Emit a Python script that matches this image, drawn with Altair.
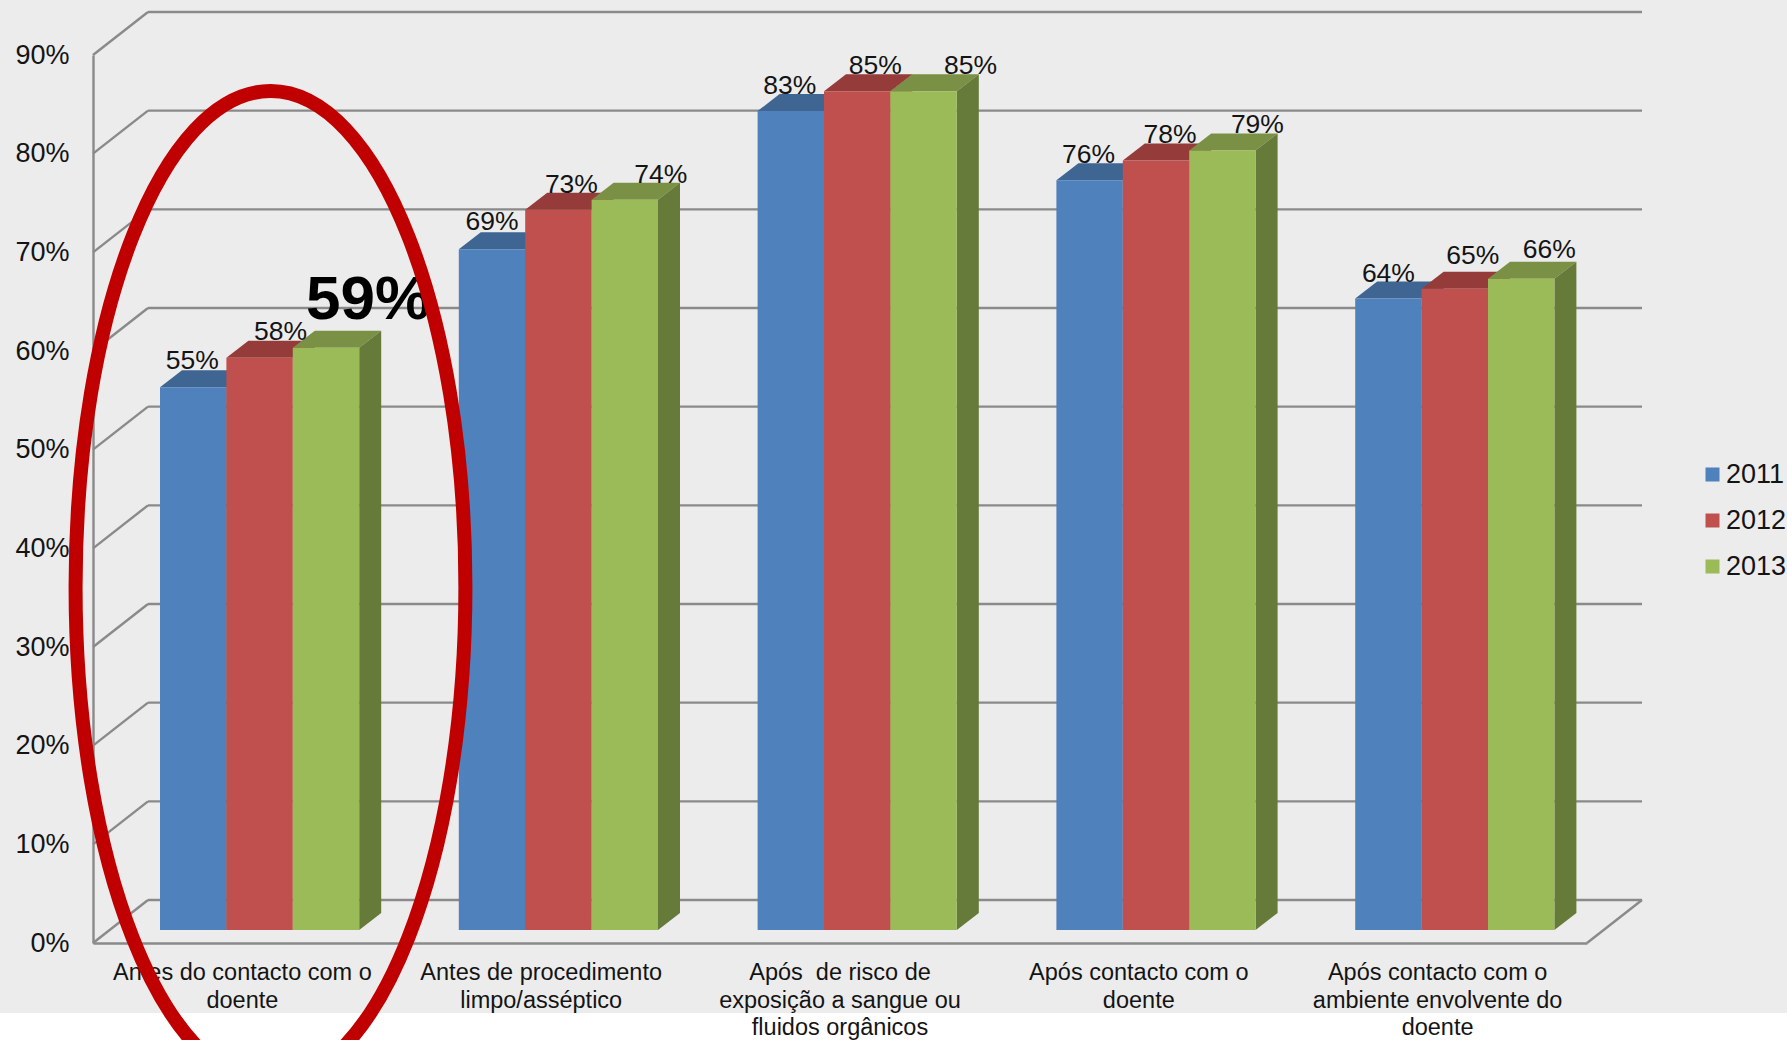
import altair as alt
import pandas as pd

# Hand hygiene compliance by moment of care, per year
CATEGORIES = [
    "Antes do contacto com o\ndoente",
    "Antes de procedimento\nlimpo/asséptico",
    "Após \u00a0de risco de\nexposição a sangue ou\nfluidos orgânicos",
    "Após contacto com o\ndoente",
    "Após contacto com o\nambiente envolvente do\ndoente",
]
YEARS = ["2011", "2012", "2013"]
VALUES_2011 = [55, 69, 83, 76, 64]
VALUES_2012 = [58, 73, 85, 78, 65]
VALUES_2013 = [59, 74, 85, 79, 66]
TICKS = list(range(0, 100, 10))

FRONT = ["#4F81BD", "#C0504D", "#9BBB59"]
TOP = ["#3F6592", "#953B39", "#7A9145"]
SIDE = ["#3A5F8A", "#8C3836", "#667A3A"]
GRID = "#8A8A8A"
INK = "#141414"
FONT = "Liberation Sans"

# Plot-area size in pixels and the pixels carried by one data unit
PLOT_W, PLOT_H = 1494, 888
PX_X = PLOT_W / 5
PX_Y = PLOT_H / 90
PAD_L, PAD_T = 93, 55


def ux(px):
    return px / PX_X


def uy(px):
    return px / PX_Y


# Pseudo-3D geometry, in data units
WALL_DX, WALL_DY = ux(55), uy(43)
BAR_LEFT, BAR_W = ux(67), ux(66.4)
BAR_BASE = uy(13)
BAR_DX, BAR_DY = ux(22), uy(17)

# Small hand placement of the value labels, in pixels (shift right, rise above bar)
LABEL_SHIFT = [[-1, 21, 42], [0, 13, 36], [-1, 18, 47], [-1, 14, 35], [0, 18, 28]]
LABEL_RISE = [[26, 26, 48], [27, 25, 25], [25, 25, 25], [25, 25, 26], [25, 33, 29]]

series = [VALUES_2011, VALUES_2012, VALUES_2013]

fronts, faces, labels = [], [], []
for i in range(len(CATEGORIES)):
    for j, year in enumerate(YEARS):
        v = series[j][i]
        x0 = i + BAR_LEFT + j * BAR_W
        x1 = x0 + BAR_W
        yt = v + BAR_BASE
        fronts.append({"year": year, "x": x0, "x2": x1, "y": BAR_BASE, "y2": yt})
        top_id, side_id = f"top{i}{j}", f"side{i}{j}"
        faces += [
            {"face": top_id, "shade": TOP[j], "x": x0, "y": yt, "y2": yt},
            {"face": top_id, "shade": TOP[j], "x": x0 + BAR_DX, "y": yt, "y2": yt + BAR_DY},
            {"face": top_id, "shade": TOP[j], "x": x1, "y": yt, "y2": yt + BAR_DY},
            {"face": top_id, "shade": TOP[j], "x": x1 + BAR_DX, "y": yt + BAR_DY, "y2": yt + BAR_DY},
            {"face": side_id, "shade": SIDE[j], "x": x1, "y": BAR_BASE, "y2": yt},
            {"face": side_id, "shade": SIDE[j], "x": x1 + BAR_DX, "y": BAR_BASE + BAR_DY, "y2": yt + BAR_DY},
        ]
        labels.append(
            {
                "x": (x0 + x1) / 2 + ux(LABEL_SHIFT[i][j]),
                "y": yt + uy(LABEL_RISE[i][j]),
                "text": f"{v}%",
                "big": i == 0 and j == 2,
            }
        )

# Side wall, back wall and floor lines
grid = []
for t in TICKS:
    grid += [
        {"seg": f"wall{t}", "x": 0, "y": t},
        {"seg": f"wall{t}", "x": WALL_DX, "y": t + WALL_DY},
        {"seg": f"back{t}", "x": WALL_DX, "y": t + WALL_DY},
        {"seg": f"back{t}", "x": 5 + WALL_DX, "y": t + WALL_DY},
    ]
grid += [{"seg": "floor", "x": 5, "y": 0}, {"seg": "floor", "x": 5 + WALL_DX, "y": WALL_DY}]

cat_labels = [
    {"x": i + 0.5, "y": -uy(30), "text": c} for i, c in enumerate(CATEGORIES)
]

x_scale = alt.Scale(domain=[0, 5], nice=False, zero=False)
y_scale = alt.Scale(domain=[0, 90], nice=False, zero=False)
X = alt.X("x:Q", scale=x_scale, title=None)
Y = alt.Y("y:Q", scale=y_scale, title=None)

# White strip under the textured slide area
strip = (
    alt.Chart(pd.DataFrame([{"x": -ux(PAD_L), "x2": 5 + ux(200), "y": -uy(70), "y2": -uy(100)}]))
    .mark_rect(color="white")
    .encode(x=X, x2="x2:Q", y=Y, y2="y2:Q")
)

grid_lines = (
    alt.Chart(pd.DataFrame(grid))
    .mark_line(color=GRID, strokeWidth=2.4)
    .encode(
        x=alt.X(
            "x:Q",
            scale=x_scale,
            title=None,
            axis=alt.Axis(
                labels=False, ticks=False, grid=False, domainColor=GRID, domainWidth=2.4, zindex=0
            ),
        ),
        y=alt.Y(
            "y:Q",
            scale=y_scale,
            title=None,
            axis=alt.Axis(
                values=TICKS,
                labelExpr="datum.value + '%'",
                ticks=False,
                grid=False,
                domainColor=GRID,
                domainWidth=2.4,
                labelFont=FONT,
                labelFontSize=27,
                labelColor=INK,
                labelPadding=24,
                zindex=0,
            ),
        ),
        detail="seg:N",
    )
)

bar_faces = (
    alt.Chart(pd.DataFrame(faces))
    .mark_area(interpolate="linear", opacity=1)
    .encode(
        x=X,
        y=Y,
        y2="y2:Q",
        color=alt.Color("shade:N", scale=None, legend=None),
        detail="face:N",
    )
)

bar_fronts = (
    alt.Chart(pd.DataFrame(fronts))
    .mark_rect()
    .encode(
        x=X,
        x2="x2:Q",
        y=Y,
        y2="y2:Q",
        fill=alt.Fill(
            "year:N",
            scale=alt.Scale(domain=YEARS, range=FRONT),
            legend=alt.Legend(
                orient="none",
                legendX=1606,
                legendY=406,
                title=None,
                symbolType="square",
                symbolSize=196,
                symbolStrokeWidth=0,
                labelFont=FONT,
                labelFontSize=27,
                labelColor=INK,
                labelOffset=0,
                rowPadding=18,
            ),
        ),
    )
)

labels_df = pd.DataFrame(labels)
value_labels = (
    alt.Chart(labels_df[~labels_df["big"]])
    .mark_text(font=FONT, fontSize=26.5, color=INK, baseline="middle")
    .encode(x=X, y=Y, text="text:N")
)
big_label = (
    alt.Chart(labels_df[labels_df["big"]])
    .mark_text(font=FONT, fontSize=62, fontWeight="bold", color="black", baseline="middle")
    .encode(x=X, y=Y, text="text:N")
)

category_labels = (
    alt.Chart(pd.DataFrame(cat_labels))
    .mark_text(
        font=FONT, fontSize=23.5, color=INK, baseline="middle", lineBreak="\n", lineHeight=27.5
    )
    .encode(x=X, y=Y, text="text:N")
)

# Red ring around the first group of bars
ring = (
    alt.Chart(pd.DataFrame([{"x": ux(270.5 - PAD_L), "y": uy(943 - 587)}]))
    .mark_point(
        shape="M -0.393 0 A 0.393 1 0 1 1 0.393 0 A 0.393 1 0 1 1 -0.393 0 Z",
        size=992**2,
        stroke="#C00000",
        strokeWidth=14,
        fill=None,
        opacity=1,
    )
    .encode(x=X, y=Y)
)

chart = (
    alt.layer(
        strip, grid_lines, bar_faces, bar_fronts, value_labels, big_label, category_labels, ring
    )
    .resolve_scale(color="independent")
    .properties(
        width=PLOT_W,
        height=PLOT_H,
        background="#ECECEC",
        padding={"left": PAD_L, "top": PAD_T, "right": 200, "bottom": 97},
        autosize=alt.AutoSizeParams(type="none"),
    )
    .configure_view(stroke=None)
)

chart.save("out.html", embed_options={"renderer": "svg", "actions": False})
